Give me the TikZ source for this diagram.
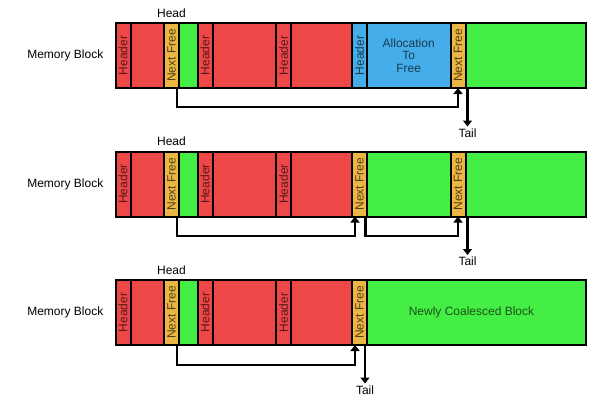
\documentclass[tikz,border=0pt]{standalone}
\usepackage{fontspec}
\setmainfont{Liberation Sans}
\usepackage{graphicx}
\usetikzlibrary{positioning,arrows.meta}
\definecolor{MemRed}{HTML}{EE4747}
\definecolor{MemGreen}{HTML}{44EE44}
\definecolor{MemOrange}{HTML}{EBB643}
\definecolor{MemBlue}{HTML}{45ADEA}
\tikzset{
  cell/.style={draw=black, line width=2pt, minimum height=65pt, inner sep=0pt,
    outer sep=0pt, anchor=west, text=black, text opacity=0.65},
  used/.style={cell, fill=MemRed},
  free/.style={cell, fill=MemGreen},
  hdr/.style={used, minimum width=15pt},
  ptr/.style={cell, fill=MemOrange, minimum width=15pt},
  link/.style={line width=2.8pt, -{Triangle[length=6pt,width=9pt]}},
  lbl/.style={inner sep=0pt}
}

\begin{document}
\begin{tikzpicture}[x=1pt,y=1pt,font=\fontsize{12}{12.5}\selectfont]
    \useasboundingbox[fill=white] (0,0) rectangle (600,400);

    % before the free
    \node[hdr] (h1a) at (115.5,344.5) {\rotatebox{90}{Header}};
    \node[used, minimum width=33.5pt, right=0pt of h1a] (r1a) {};
    \node[ptr, right=0pt of r1a] (n1a) {\rotatebox{90}{Next Free}};
    \node[free, minimum width=18.5pt, right=0pt of n1a] (g1a) {};
    \node[hdr, right=0pt of g1a] (h1b) {\rotatebox{90}{Header}};
    \node[used, minimum width=63.5pt, right=0pt of h1b] (r1b) {};
    \node[hdr, right=0pt of r1b] (h1c) {\rotatebox{90}{Header}};
    \node[used, minimum width=61pt, right=0pt of h1c] (r1c) {};
    \node[hdr, fill=MemBlue, right=0pt of r1c] (h1d) {\rotatebox{90}{Header}};
    \node[cell, fill=MemBlue, minimum width=83.5pt, align=center,
      right=0pt of h1d] (b1) {Allocation\\To\\Free};
    \node[ptr, right=0pt of b1] (n1b) {\rotatebox{90}{Next Free}};
    \node[free, minimum width=120.5pt, right=0pt of n1b] (g1b) {};
    \node[lbl, left=12pt of h1a] (m1) {Memory Block};
    \node[lbl] (hd1) at ([yshift=10pt]n1a.north) {Head};
    \draw[link] ([xshift=-2pt]n1a.south east) -- ++(0,-19) -| (n1b.south);
    \draw[link] ([xshift=2pt]n1b.south east) -- ++(0,-38.5) coordinate (tl1);
    \node[lbl, below=2pt of tl1] (tail1) {Tail};

    % after the free
    \node[hdr] (h2a) at (115.5,216) {\rotatebox{90}{Header}};
    \node[used, minimum width=33.5pt, right=0pt of h2a] (r2a) {};
    \node[ptr, right=0pt of r2a] (n2a) {\rotatebox{90}{Next Free}};
    \node[free, minimum width=18.5pt, right=0pt of n2a] (g2a) {};
    \node[hdr, right=0pt of g2a] (h2b) {\rotatebox{90}{Header}};
    \node[used, minimum width=63.5pt, right=0pt of h2b] (r2b) {};
    \node[hdr, right=0pt of r2b] (h2c) {\rotatebox{90}{Header}};
    \node[used, minimum width=61pt, right=0pt of h2c] (r2c) {};
    \node[ptr, right=0pt of r2c] (n2b) {\rotatebox{90}{Next Free}};
    \node[free, minimum width=83.5pt, right=0pt of n2b] (g2b) {};
    \node[ptr, right=0pt of g2b] (n2c) {\rotatebox{90}{Next Free}};
    \node[free, minimum width=120.5pt, right=0pt of n2c] (g2c) {};
    \node[lbl, left=12pt of h2a] (m2) {Memory Block};
    \node[lbl] (hd2) at ([yshift=10pt]n2a.north) {Head};
    \draw[link] ([xshift=-2pt]n2a.south east) -- ++(0,-19.5) -| ([xshift=-4.5pt]n2b.south);
    \draw[link] ([xshift=-1.5pt]n2b.south east) -- ++(0,-19.5) -| (n2c.south);
    \draw[link] ([xshift=2pt]n2c.south east) -- ++(0,-38.5) coordinate (tl2);
    \node[lbl, below=2pt of tl2] (tail2) {Tail};

    % coalesced
    \node[hdr] (h3a) at (115.5,87.5) {\rotatebox{90}{Header}};
    \node[used, minimum width=33.5pt, right=0pt of h3a] (r3a) {};
    \node[ptr, right=0pt of r3a] (n3a) {\rotatebox{90}{Next Free}};
    \node[free, minimum width=18.5pt, right=0pt of n3a] (g3a) {};
    \node[hdr, right=0pt of g3a] (h3b) {\rotatebox{90}{Header}};
    \node[used, minimum width=63.5pt, right=0pt of h3b] (r3b) {};
    \node[hdr, right=0pt of r3b] (h3c) {\rotatebox{90}{Header}};
    \node[used, minimum width=61pt, right=0pt of h3c] (r3c) {};
    \node[ptr, right=0pt of r3c] (n3b) {\rotatebox{90}{Next Free}};
    \node[free, minimum width=219pt, right=0pt of n3b] (g3b) {\hspace{-10pt}Newly Coalesced Block};
    \node[lbl, left=12pt of h3a] (m3) {Memory Block};
    \node[lbl] (hd3) at ([yshift=10pt]n3a.north) {Head};
    \draw[link] ([xshift=-2pt]n3a.south east) -- ++(0,-20) -| ([xshift=-4.5pt]n3b.south);
    \draw[link] ([xshift=-2pt]n3b.south east) -- ++(0,-38.5) coordinate (tl3);
    \node[lbl, below=2pt of tl3] (tail3) {Tail};
\end{tikzpicture}
\end{document}
